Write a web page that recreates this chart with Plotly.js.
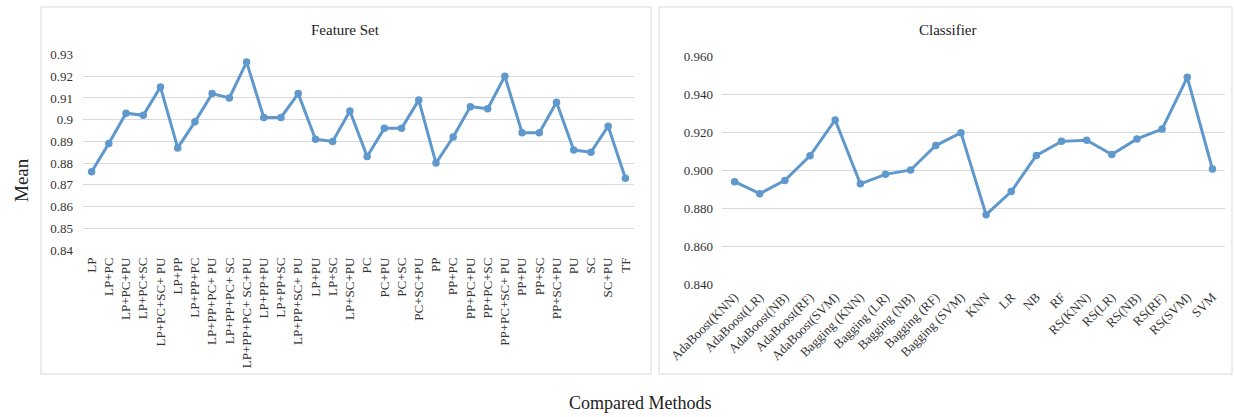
<!DOCTYPE html>
<html>
<head>
<meta charset="utf-8">
<script src="https://cdn.plot.ly/plotly-3.0.1.min.js"></script>
<style>
html,body{margin:0;padding:0;background:#fff;}
#chart{width:1234px;height:417px;}
</style>
</head>
<body>
<div id="chart"></div>
<script>
// ---- Data ----
const featureSets = ["LP","LP+PC","LP+PC+PU","LP+PC+SC","LP+PC+SC+ PU","LP+PP","LP+PP+PC","LP+PP+PC+ PU","LP+PP+PC+ SC","LP+PP+PC+ SC+PU","LP+PP+PU","LP+PP+SC","LP+PP+SC+ PU","LP+PU","LP+SC","LP+SC+PU","PC","PC+PU","PC+SC","PC+SC+PU","PP","PP+PC","PP+PC+PU","PP+PC+SC","PP+PC+SC+ PU","PP+PU","PP+SC","PP+SC+PU","PU","SC","SC+PU","TF"];
const featureMeans = [0.876,0.889,0.903,0.902,0.915,0.887,0.899,0.912,0.910,0.9265,0.901,0.901,0.912,0.891,0.890,0.904,0.883,0.896,0.896,0.909,0.880,0.892,0.906,0.905,0.920,0.894,0.894,0.908,0.886,0.885,0.897,0.873];

const classifiers = ["AdaBoost(KNN)","AdaBoost(LR)","AdaBoost(NB)","AdaBoost(RF)","AdaBoost(SVM)","Bagging (KNN)","Bagging (LR)","Bagging (NB)","Bagging (RF)","Bagging (SVM)","KNN","LR","NB","RF","RS(KNN)","RS(LR)","RS(NB)","RS(RF)","RS(SVM)","SVM"];
const classifierMeans = [0.894,0.8877,0.8947,0.9077,0.9266,0.8929,0.8979,0.9002,0.9131,0.9199,0.8766,0.8888,0.9079,0.9153,0.9159,0.9084,0.9166,0.9218,0.9491,0.9007];

const leftTickVals = [0.84,0.85,0.86,0.87,0.88,0.89,0.90,0.91,0.92,0.93];
const leftTickText = ["0.84","0.85","0.86","0.87","0.88","0.89","0.9","0.91","0.92","0.93"];
const rightTickVals = [0.84,0.86,0.88,0.90,0.92,0.94,0.96];
const rightTickText = ["0.840","0.860","0.880","0.900","0.920","0.940","0.960"];

// ---- Layout helpers ----
const W = 1234, H = 417;
const px = x => x / W;
const py = y => 1 - y / H;
const lineColor = "#5f98cc";
const gridColor = "#d9d9d9";
const tickFont = {family: "Liberation Serif, Times New Roman, serif", size: 13, color: "#333333"};

const traces = [
  {x: featureSets, y: featureMeans, xaxis: "x", yaxis: "y", type: "scatter", mode: "lines+markers",
   line: {color: lineColor, width: 3}, marker: {color: lineColor, size: 7.5}, hoverinfo: "x+y"},
  {x: classifiers, y: classifierMeans, xaxis: "x2", yaxis: "y2", type: "scatter", mode: "lines+markers",
   line: {color: lineColor, width: 3}, marker: {color: lineColor, size: 7.5}, hoverinfo: "x+y"}
];

const layout = {
  width: W, height: H,
  margin: {l: 0, r: 0, t: 0, b: 0},
  paper_bgcolor: "#fff", plot_bgcolor: "rgba(0,0,0,0)",
  showlegend: false,
  font: tickFont,
  xaxis: {domain: [px(83), px(634)], anchor: "y", type: "category", range: [-0.5, 31.5],
          showgrid: false, showline: false, zeroline: false, tickangle: -90, tickfont: tickFont,
          ticks: "", ticklabelstandoff: 4, fixedrange: true},
  yaxis: {domain: [py(250), py(54.5)], anchor: "x", range: [0.84, 0.93],
          tickvals: leftTickVals, ticktext: leftTickText, showgrid: true, gridcolor: gridColor, gridwidth: 1,
          zeroline: false, showline: false, ticks: "", tickfont: tickFont, ticklabelstandoff: 9, fixedrange: true},
  xaxis2: {domain: [px(722), px(1225)], anchor: "y2", type: "category", range: [-0.5, 19.5],
           showgrid: false, showline: false, zeroline: false, tickangle: -45, tickfont: tickFont,
           ticks: "", ticklabelstandoff: 2, fixedrange: true},
  yaxis2: {domain: [py(284), py(56.7)], anchor: "x2", range: [0.84, 0.96],
           tickvals: rightTickVals, ticktext: rightTickText, showgrid: true, gridcolor: gridColor, gridwidth: 1,
           zeroline: false, showline: false, ticks: "", tickfont: tickFont, ticklabelstandoff: 8, fixedrange: true},
  shapes: [
    {type: "rect", xref: "paper", yref: "paper", x0: px(41), x1: px(651), y0: py(374), y1: py(7),
     line: {color: gridColor, width: 1}, layer: "below"},
    {type: "rect", xref: "paper", yref: "paper", x0: px(659), x1: px(1232), y0: py(374), y1: py(7),
     line: {color: gridColor, width: 1}, layer: "below"}
  ],
  annotations: [
    {text: "Feature Set", xref: "paper", yref: "paper", x: px(345), y: py(30), showarrow: false,
     font: {family: "Liberation Serif, serif", size: 15, color: "#222"}, xanchor: "center", yanchor: "middle"},
    {text: "Classifier", xref: "paper", yref: "paper", x: px(948), y: py(30), showarrow: false,
     font: {family: "Liberation Serif, serif", size: 15, color: "#222"}, xanchor: "center", yanchor: "middle"},
    {text: "Mean", xref: "paper", yref: "paper", x: px(21), y: py(180), showarrow: false, textangle: -90,
     font: {family: "Liberation Serif, serif", size: 19, color: "#222"}, xanchor: "center", yanchor: "middle"},
    {text: "Compared Methods", xref: "paper", yref: "paper", x: px(640), y: py(403), showarrow: false,
     font: {family: "Liberation Serif, serif", size: 18, color: "#222"}, xanchor: "center", yanchor: "middle"}
  ]
};

Plotly.newPlot("chart", traces, layout, {staticPlot: true, displayModeBar: false});
</script>
</body>
</html>
